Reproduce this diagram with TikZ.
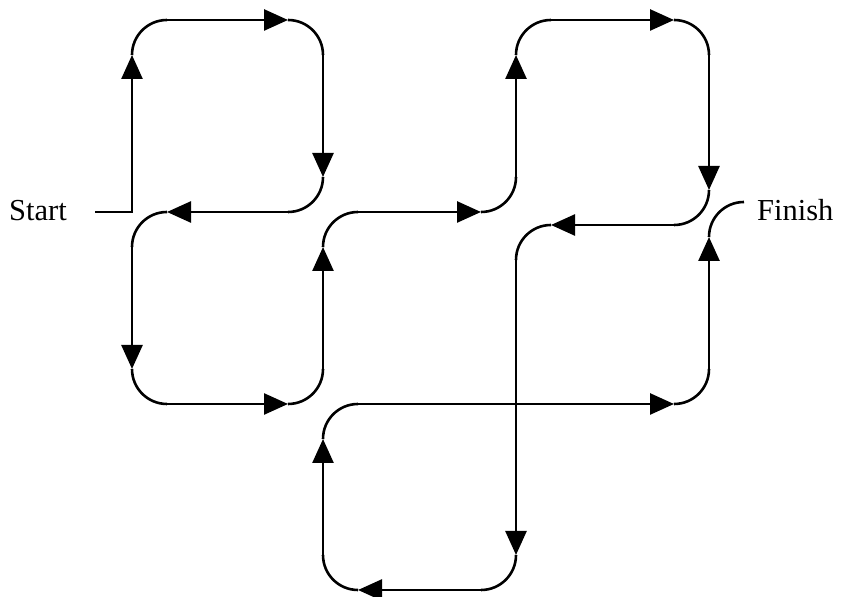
\documentclass[tikz,border=0pt]{standalone}
\usepackage{fontspec}
\setmainfont{Liberation Serif}
\usetikzlibrary{arrows.meta}
\begin{document}
\begin{tikzpicture}[x=1bp,y=1bp,
  seg/.style={line width=2.6bp,-{Triangle[length=24bp,width=21bp]}},
  turnline/.style={line width=2.6bp},
  lbl/.style={font=\fontsize{30.5bp}{36bp}\selectfont,inner sep=0pt}]
\useasboundingbox (0,0) rectangle (841,597);
% labels
\node[lbl,anchor=base west] (start) at (9,376) {Start};
\node[lbl,anchor=base west] (finish) at (757,376) {Finish};
% coordinates
\coordinate (s0) at (95,385);
\coordinate (s1) at (132,385);
\coordinate (a1) at (132,542);  \coordinate (b1) at (167,577);
\coordinate (a2) at (288,577);  \coordinate (b2) at (323,542);
\coordinate (a3) at (323,420);  \coordinate (b3) at (288,385);
\coordinate (a4) at (167,385);  \coordinate (b4) at (132,350);
\coordinate (a5) at (132,228);  \coordinate (b5) at (167,193);
\coordinate (a6) at (288,193);  \coordinate (b6) at (323,228);
\coordinate (a7) at (323,350);  \coordinate (b7) at (358,385);
\coordinate (a8) at (481,385);  \coordinate (b8) at (516,420);
\coordinate (a9) at (516,542);  \coordinate (b9) at (551,577);
\coordinate (a10) at (674,577); \coordinate (b10) at (709,542);
\coordinate (a11) at (709,407); \coordinate (b11) at (674,372);
\coordinate (a12) at (551,372); \coordinate (b12) at (516,337);
\coordinate (a13) at (516,42);  \coordinate (b13) at (481,7);
\coordinate (a14) at (358,7);   \coordinate (b14) at (323,42);
\coordinate (a15) at (323,158); \coordinate (b15) at (358,193);
\coordinate (a16) at (674,193); \coordinate (b16) at (709,228);
\coordinate (a17) at (709,360); \coordinate (b17) at (744,395);
% straight runs with arrows
\draw[seg] (s0) -- (s1) -- (a1);
\draw[seg] (b1) -- (a2);
\draw[seg] (b2) -- (a3);
\draw[seg] (b3) -- (a4);
\draw[seg] (b4) -- (a5);
\draw[seg] (b5) -- (a6);
\draw[seg] (b6) -- (a7);
\draw[seg] (b7) -- (a8);
\draw[seg] (b8) -- (a9);
\draw[seg] (b9) -- (a10);
\draw[seg] (b10) -- (a11);
\draw[seg] (b11) -- (a12);
\draw[seg] (b12) -- (a13);
\draw[seg] (b13) -- (a14);
\draw[seg] (b14) -- (a15);
\draw[seg] (b15) -- (a16);
\draw[seg] (b16) -- (a17);
% rounded turns
\draw[turnline] (a1) to[out=90,in=180] (b1);
\draw[turnline] (a2) to[out=0,in=90] (b2);
\draw[turnline] (a3) to[out=270,in=0] (b3);
\draw[turnline] (a4) to[out=180,in=90] (b4);
\draw[turnline] (a5) to[out=270,in=180] (b5);
\draw[turnline] (a6) to[out=0,in=270] (b6);
\draw[turnline] (a7) to[out=90,in=180] (b7);
\draw[turnline] (a8) to[out=0,in=270] (b8);
\draw[turnline] (a9) to[out=90,in=180] (b9);
\draw[turnline] (a10) to[out=0,in=90] (b10);
\draw[turnline] (a11) to[out=270,in=0] (b11);
\draw[turnline] (a12) to[out=180,in=90] (b12);
\draw[turnline] (a13) to[out=270,in=0] (b13);
\draw[turnline] (a14) to[out=180,in=270] (b14);
\draw[turnline] (a15) to[out=90,in=180] (b15);
\draw[turnline] (a16) to[out=0,in=270] (b16);
\draw[turnline] (a17) to[out=90,in=180] (b17);
\end{tikzpicture}
\end{document}
